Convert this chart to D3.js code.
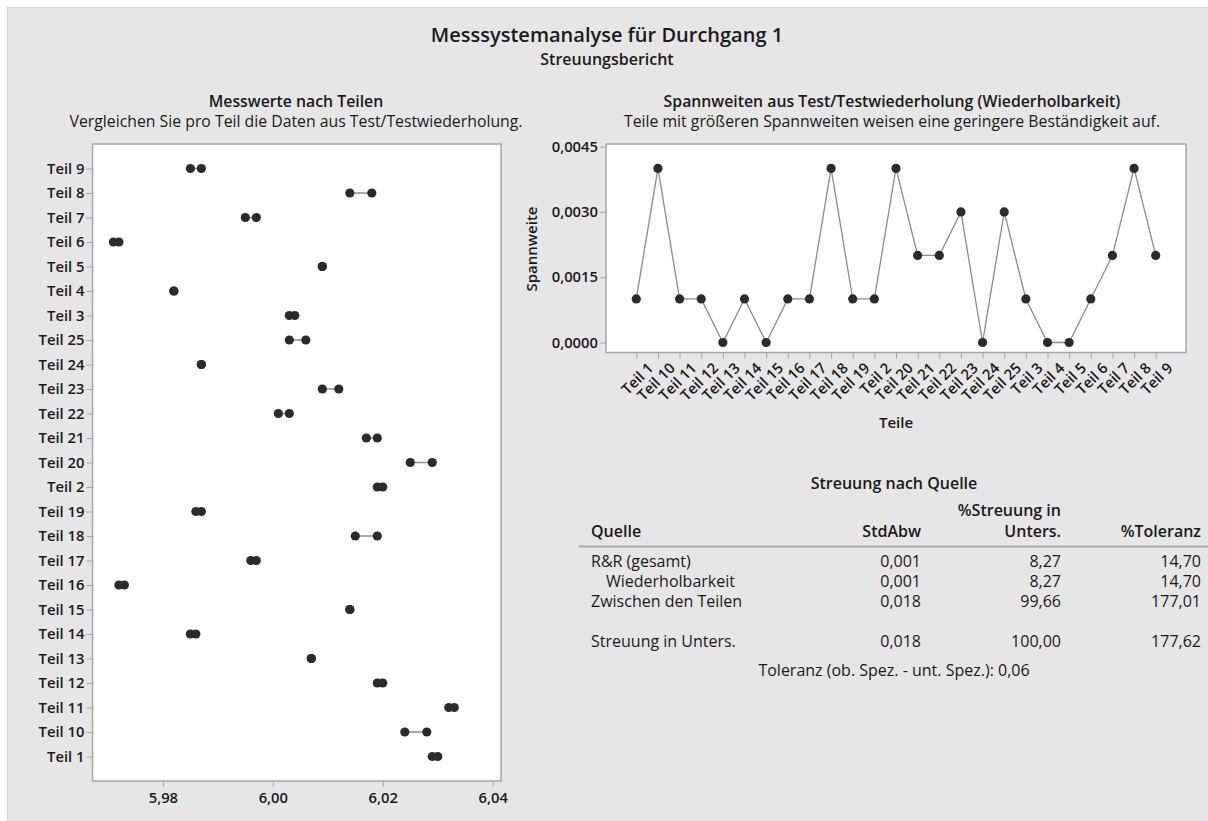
<!DOCTYPE html>
<html>
<head>
<meta charset="utf-8">
<script src="https://cdn.jsdelivr.net/npm/d3@7"></script>
<style>
  body { margin: 0; background: #fff; }
  svg text { font-family: 'Open Sans', sans-serif; fill: #1a1a1a; }
  .bold { font-weight: 600; }
</style>
</head>
<body>
<svg id="chart" width="1208" height="821"></svg>
<script>
// Teile in Anzeigereihenfolge (alphabetisch sortiert wie in Minitab)
const teile = ['Teil 1','Teil 10','Teil 11','Teil 12','Teil 13','Teil 14','Teil 15','Teil 16','Teil 17','Teil 18','Teil 19','Teil 2','Teil 20','Teil 21','Teil 22','Teil 23','Teil 24','Teil 25','Teil 3','Teil 4','Teil 5','Teil 6','Teil 7','Teil 8','Teil 9'];

// Messung 1 und 2 je Teil
const messung1 = [6.029,6.024,6.032,6.019,6.007,5.985,6.014,5.972,5.996,6.015,5.986,6.019,6.025,6.017,6.001,6.009,5.987,6.003,6.003,5.982,6.009,5.971,5.995,6.014,5.985];
const messung2 = [6.030,6.028,6.033,6.020,6.007,5.986,6.014,5.973,5.997,6.019,5.987,6.020,6.029,6.019,6.003,6.012,5.987,6.006,6.004,5.982,6.009,5.972,5.997,6.018,5.987];

// Spannweiten je Teil
const spannweiten = [0.001,0.004,0.001,0.001,0,0.001,0,0.001,0.001,0.004,0.001,0.001,0.004,0.002,0.002,0.003,0,0.003,0.001,0,0,0.001,0.002,0.004,0.002];

const messTicks = [5.98, 6.00, 6.02, 6.04];
const spannTicks = [0, 0.0015, 0.003, 0.0045];

// Tabelle "Streuung nach Quelle"
const quellen = ['R&R (gesamt)', '  Wiederholbarkeit', 'Zwischen den Teilen', '', 'Streuung in Unters.'];
const stdAbw = ['0,001', '0,001', '0,018', '', '0,018'];
const streuungPct = ['8,27', '8,27', '99,66', '', '100,00'];
const toleranzPct = ['14,70', '14,70', '177,01', '', '177,62'];
const toleranzText = 'Toleranz (ob. Spez. - unt. Spez.): 0,06';

const svg = d3.select('#chart');
const comma = f => d => d3.format(f)(d).replace('.', ',');
const tickFont = '14.8px';
const subFont = '15.8px';

// Hintergrund
svg.append('rect')
  .attr('x', 7.5).attr('y', 7.5)
  .attr('width', 1210).attr('height', 820)
  .attr('fill', '#e6e6e6')
  .attr('stroke', '#d4d4d4');

// Titel
svg.append('text').attr('class', 'bold')
  .attr('x', 607).attr('y', 42)
  .attr('text-anchor', 'middle').style('font-size', '20px')
  .text('Messsystemanalyse für Durchgang 1');
svg.append('text').attr('class', 'bold')
  .attr('x', 607).attr('y', 65)
  .attr('text-anchor', 'middle').style('font-size', '16px')
  .text('Streuungsbericht');

// ---------- linkes Diagramm: Messwerte nach Teilen ----------
const L = {left: 92.5, right: 501, top: 144, bottom: 781};

svg.append('text').attr('class', 'bold')
  .attr('x', 296).attr('y', 107).attr('text-anchor', 'middle').style('font-size', subFont)
  .text('Messwerte nach Teilen');
svg.append('text')
  .attr('x', 296).attr('y', 127).attr('text-anchor', 'middle').style('font-size', subFont)
  .text('Vergleichen Sie pro Teil die Daten aus Test/Testwiederholung.');

const xMess = d3.scaleLinear().domain([5.9672, 6.0415]).range([L.left, L.right]);
const yTeil = d3.scalePoint().domain(teile).range([L.bottom, L.top]).padding(1);

svg.append('rect')
  .attr('x', L.left).attr('y', L.top)
  .attr('width', L.right - L.left).attr('height', L.bottom - L.top)
  .attr('fill', '#fff').attr('stroke', '#a6a6a6').attr('stroke-width', 1.5);

const axL = svg.append('g').attr('transform', `translate(${L.left},0)`)
  .call(d3.axisLeft(yTeil).tickSize(6).tickPadding(2));
const axB = svg.append('g').attr('transform', `translate(0,${L.bottom})`)
  .call(d3.axisBottom(xMess).tickValues(messTicks).tickFormat(comma('.2f')).tickSize(6).tickPadding(5));
[axL, axB].forEach(ax => {
  ax.select('.domain').remove();
  ax.selectAll('line').attr('stroke', '#a6a6a6');
  ax.selectAll('text').attr('class', 'bold').style('font-size', tickFont)
    .style('font-family', "'Open Sans', sans-serif").attr('fill', '#1a1a1a');
});

const paare = teile.map((t, i) => ({teil: t, a: messung1[i], b: messung2[i]}));
const gPaare = svg.append('g').selectAll('g').data(paare).join('g');
gPaare.append('line')
  .attr('x1', d => xMess(d.a)).attr('x2', d => xMess(d.b))
  .attr('y1', d => yTeil(d.teil)).attr('y2', d => yTeil(d.teil))
  .attr('stroke', '#8c8c8c').attr('stroke-width', 1.5);
gPaare.selectAll('circle').data(d => [[d.teil, d.a], [d.teil, d.b]]).join('circle')
  .attr('cx', d => xMess(d[1])).attr('cy', d => yTeil(d[0]))
  .attr('r', 4.6).attr('fill', '#2b2b2b');

// ---------- rechtes Diagramm: Spannweiten ----------
const R = {left: 606, right: 1186, top: 144, bottom: 352.5};

svg.append('text').attr('class', 'bold')
  .attr('x', 892).attr('y', 107).attr('text-anchor', 'middle').style('font-size', subFont)
  .text('Spannweiten aus Test/Testwiederholung (Wiederholbarkeit)');
svg.append('text')
  .attr('x', 892).attr('y', 127).attr('text-anchor', 'middle').style('font-size', subFont)
  .text('Teile mit größeren Spannweiten weisen eine geringere Beständigkeit auf.');

const xTeil = d3.scalePoint().domain(teile).range([R.left, R.right]).padding(1.4);
const ySpann = d3.scaleLinear().domain([-0.00023, 0.00456]).range([R.bottom, R.top]);

svg.append('rect')
  .attr('x', R.left).attr('y', R.top)
  .attr('width', R.right - R.left).attr('height', R.bottom - R.top)
  .attr('fill', '#fff').attr('stroke', '#a6a6a6').attr('stroke-width', 1.5);

const axRL = svg.append('g').attr('transform', `translate(${R.left},0)`)
  .call(d3.axisLeft(ySpann).tickValues(spannTicks).tickFormat(comma('.4f')).tickSize(6).tickPadding(2));
const axRB = svg.append('g').attr('transform', `translate(0,${R.bottom})`)
  .call(d3.axisBottom(xTeil).tickSize(6).tickPadding(2));
[axRL, axRB].forEach(ax => {
  ax.select('.domain').remove();
  ax.selectAll('line').attr('stroke', '#a6a6a6');
  ax.selectAll('text').attr('class', 'bold').style('font-size', tickFont)
    .style('font-family', "'Open Sans', sans-serif").attr('fill', '#1a1a1a');
});
axRB.selectAll('text')
  .attr('text-anchor', 'end')
  .attr('dy', '0.75em')
  .attr('transform', 'translate(4,3) rotate(-45)');

svg.append('text').attr('class', 'bold')
  .attr('transform', 'translate(537,249) rotate(-90)')
  .attr('text-anchor', 'middle').style('font-size', '15px')
  .text('Spannweite');
svg.append('text').attr('class', 'bold')
  .attr('x', 896).attr('y', 428).attr('text-anchor', 'middle').style('font-size', '15px')
  .text('Teile');

const linie = d3.line().x((d, i) => xTeil(teile[i])).y(d => ySpann(d));
svg.append('path').datum(spannweiten)
  .attr('d', linie).attr('fill', 'none')
  .attr('stroke', '#8c8c8c').attr('stroke-width', 1.3);
svg.append('g').selectAll('circle').data(spannweiten).join('circle')
  .attr('cx', (d, i) => xTeil(teile[i])).attr('cy', d => ySpann(d))
  .attr('r', 4.6).attr('fill', '#2b2b2b');

// ---------- Tabelle ----------
const tab = svg.append('g').style('font-size', '16px');
const colQuelle = 591, colStd = 921, colStr = 1061, colTol = 1201;

tab.append('text').attr('class', 'bold')
  .attr('x', 894).attr('y', 489).attr('text-anchor', 'middle')
  .text('Streuung nach Quelle');
tab.append('text').attr('class', 'bold')
  .attr('x', colStr).attr('y', 516).attr('text-anchor', 'end').text('%Streuung in');
const kopf = [['Quelle', colQuelle, 'start'], ['StdAbw', colStd, 'end'], ['Unters.', colStr, 'end'], ['%Toleranz', colTol, 'end']];
tab.selectAll('.kopf').data(kopf).join('text')
  .attr('class', 'bold kopf')
  .attr('x', d => d[1]).attr('y', 537).attr('text-anchor', d => d[2])
  .text(d => d[0]);
tab.append('line')
  .attr('x1', 579).attr('x2', 1208).attr('y1', 546.5).attr('y2', 546.5)
  .attr('stroke', '#ababab').attr('stroke-width', 2);

const zeilen = quellen.map((q, i) => [q, stdAbw[i], streuungPct[i], toleranzPct[i]]);
const rowG = tab.selectAll('.zeile').data(zeilen).join('g')
  .attr('class', 'zeile')
  .attr('transform', (d, i) => `translate(0,${566.5 + i * 20})`);
rowG.append('text').attr('x', d => d[0].startsWith(' ') ? colQuelle + 15 : colQuelle)
  .text(d => d[0].trim());
rowG.append('text').attr('x', colStd).attr('text-anchor', 'end').text(d => d[1]);
rowG.append('text').attr('x', colStr).attr('text-anchor', 'end').text(d => d[2]);
rowG.append('text').attr('x', colTol).attr('text-anchor', 'end').text(d => d[3]);

tab.append('text')
  .attr('x', 894).attr('y', 676).attr('text-anchor', 'middle')
  .text(toleranzText);
</script>
</body>
</html>
